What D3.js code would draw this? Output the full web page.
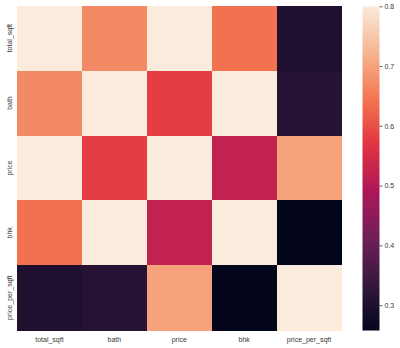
<!DOCTYPE html>
<html>
<head>
<meta charset="utf-8">
<script src="https://cdn.jsdelivr.net/npm/d3@7"></script>
<style>
  html, body { margin: 0; padding: 0; background: #fff; }
  svg { display: block; }
  text { font-family: "Liberation Sans", Arial, sans-serif; fill: #3a3a3a; }
</style>
</head>
<body>
<svg id="chart" width="400" height="348"></svg>
<script>
// ---- data ----
const categories = ["total_sqft", "bath", "price", "bhk", "price_per_sqft"];
const rowTotalSqft = [1.00, 0.67, 0.86, 0.64, 0.300];
const rowBath      = [0.67, 1.00, 0.58, 0.90, 0.312];
const rowPrice     = [0.86, 0.58, 1.00, 0.52, 0.700];
const rowBhk       = [0.64, 0.90, 0.52, 1.00, 0.2575];
const rowPpsf      = [0.300, 0.312, 0.700, 0.2575, 1.00];
const colorbarTicks = [0.3, 0.4, 0.5, 0.6, 0.7, 0.8];
const vmax = 0.8;

// rocket colormap stops
const rocketStops = ["#03051a", "#35193e", "#701f57", "#ad1759", "#e13342", "#f37651", "#f6b48f", "#faebdd"];

const matrix = [rowTotalSqft, rowBath, rowPrice, rowBhk, rowPpsf];
const cells = [];
matrix.forEach((row, i) => row.forEach((v, j) => cells.push({ row: categories[i], col: categories[j], value: v })));
const vmin = d3.min(cells, d => d.value);

const svg = d3.select("#chart");
const plotLeft = 17, plotTop = 5.7, plotSize = 324.5;

const x = d3.scaleBand().domain(categories).range([plotLeft, plotLeft + plotSize]);
const y = d3.scaleBand().domain(categories).range([plotTop, plotTop + plotSize]);

const rocket = d3.piecewise(d3.interpolateRgb, rocketStops);
const color = d3.scaleSequential(rocket).domain([vmin, vmax]).clamp(true);

svg.append("g").selectAll("rect").data(cells).join("rect")
  .attr("x", d => x(d.col))
  .attr("y", d => y(d.row))
  .attr("width", x.bandwidth() + 0.5)
  .attr("height", y.bandwidth() + 0.5)
  .attr("fill", d => color(d.value))
  .attr("shape-rendering", "crispEdges");

// x labels
svg.append("g").selectAll("text").data(categories).join("text")
  .attr("x", d => x(d) + x.bandwidth() / 2)
  .attr("y", 341.5)
  .attr("text-anchor", "middle")
  .attr("font-size", 7)
  .text(d => d);

// y labels
svg.append("g").selectAll("text").data(categories).join("text")
  .attr("transform", d => `translate(12,${y(d) + y.bandwidth() / 2}) rotate(-90)`)
  .attr("text-anchor", "middle")
  .attr("font-size", 7)
  .text(d => d);

// colorbar
const cbX = 362.5, cbW = 17, cbTop = 6.3, cbBottom = 330.5;
const cbScale = d3.scaleLinear().domain([vmin, vmax]).range([cbBottom, cbTop]);
const defs = svg.append("defs");
const grad = defs.append("linearGradient").attr("id", "cbgrad")
  .attr("x1", 0).attr("y1", 1).attr("x2", 0).attr("y2", 0);
d3.range(0, 1.0001, 0.02).forEach(t => {
  grad.append("stop").attr("offset", t).attr("stop-color", color(vmin + t * (vmax - vmin)));
});
svg.append("rect")
  .attr("x", cbX).attr("y", cbTop)
  .attr("width", cbW).attr("height", cbBottom - cbTop)
  .attr("fill", "url(#cbgrad)");

const cbAxis = svg.append("g")
  .attr("transform", `translate(${cbX + cbW},0)`)
  .call(d3.axisRight(cbScale).tickValues(colorbarTicks).tickSize(3).tickPadding(2).tickFormat(d3.format(".1f")));
cbAxis.select(".domain").remove();
cbAxis.selectAll("line").attr("stroke", "#3a3a3a").attr("stroke-width", 0.8);
cbAxis.selectAll("text").attr("font-size", 7).attr("font-family", "Liberation Sans, Arial, sans-serif").attr("fill", "#3a3a3a");
</script>
</body>
</html>
